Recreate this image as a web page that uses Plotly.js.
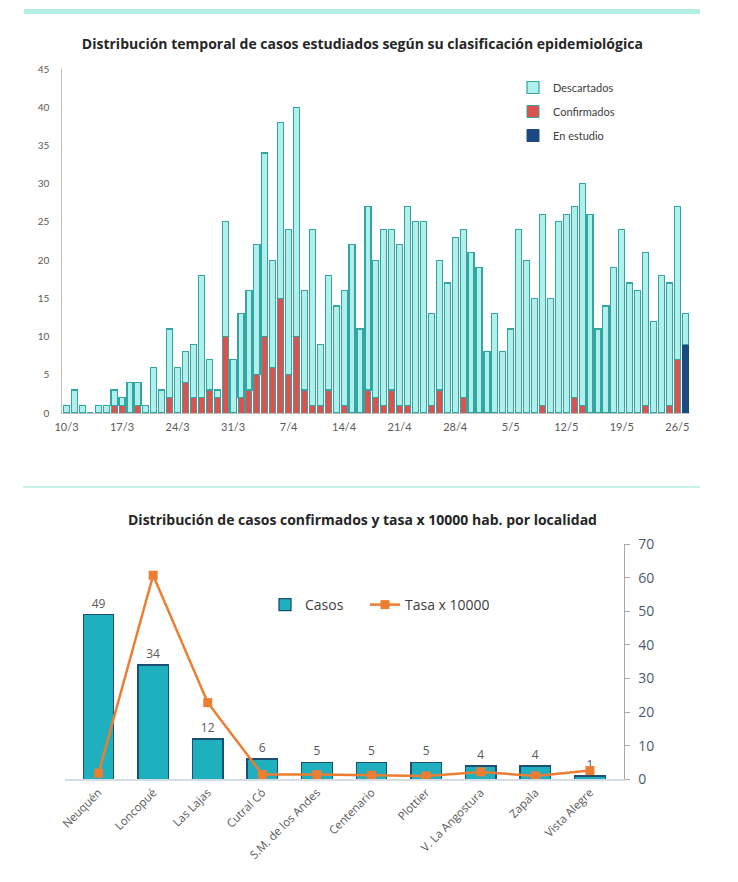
<!DOCTYPE html>
<html>
<head>
<meta charset="utf-8">
<script src="https://cdn.plot.ly/plotly-3.0.1.min.js"></script>
<style>
  html, body { margin: 0; padding: 0; background: #ffffff; }
  #chart { width: 738px; height: 882px; }
</style>
</head>
<body>
<div id="chart"></div>
<script>
// ---- Gráfico 1: distribución temporal ----
const dias = [
  '10/3','11/3','12/3','13/3','14/3','15/3','16/3','17/3','18/3','19/3','20/3','21/3','22/3','23/3','24/3','25/3','26/3','27/3','28/3','29/3','30/3','31/3',
  '1/4','2/4','3/4','4/4','5/4','6/4','7/4','8/4','9/4','10/4','11/4','12/4','13/4','14/4','15/4','16/4','17/4','18/4','19/4','20/4','21/4','22/4','23/4','24/4','25/4','26/4','27/4','28/4','29/4','30/4',
  '1/5','2/5','3/5','4/5','5/5','6/5','7/5','8/5','9/5','10/5','11/5','12/5','13/5','14/5','15/5','16/5','17/5','18/5','19/5','20/5','21/5','22/5','23/5','24/5','25/5','26/5','27/5'
];
const descartados = [
  1,3,1,0,1,1,2,1,4,3,1,6,3,9,6,4,7,16,4,1,15,7,
  11,13,17,24,14,23,19,30,13,23,8,15,14,15,22,11,24,18,23,21,21,26,25,25,12,17,17,23,22,21,
  19,8,13,8,11,24,20,15,25,15,25,26,25,29,26,11,14,19,24,17,16,20,12,18,16,20,4
];
const confirmados = [
  0,0,0,0,0,0,1,1,0,1,0,0,0,2,0,4,2,2,3,2,10,0,
  2,3,5,10,6,15,5,10,3,1,1,3,0,1,0,0,3,2,1,3,1,1,0,0,1,3,0,0,2,0,
  0,0,0,0,0,0,0,0,1,0,0,0,2,1,0,0,0,0,0,0,0,1,0,0,1,7,0
];
const enEstudio = [
  0,0,0,0,0,0,0,0,0,0,0,0,0,0,0,0,0,0,0,0,0,0,
  0,0,0,0,0,0,0,0,0,0,0,0,0,0,0,0,0,0,0,0,0,0,0,0,0,0,0,0,0,0,
  0,0,0,0,0,0,0,0,0,0,0,0,0,0,0,0,0,0,0,0,0,0,0,0,0,0,9
];
const ticksFecha = ['10/3','17/3','24/3','31/3','7/4','14/4','21/4','28/4','5/5','12/5','19/5','26/5'];

// ---- Gráfico 2: casos confirmados y tasa por localidad ----
const localidades = ['Neuquén','Loncopué','Las Lajas','Cutral Có','S.M. de los Andes','Centenario','Plottier','V. La Angostura','Zapala','Vista Alegre'];
const casos = [49, 34, 12, 6, 5, 5, 5, 4, 4, 1];
const tasa = [1.8, 60.7, 22.8, 1.4, 1.4, 1.2, 1.0, 2.2, 1.0, 2.6];

const W = 738, H = 882;
const px = v => v / W;
const py = v => 1 - v / H;

const outline = '#33A5A3';
const traces = [
  {
    type: 'bar', x: dias, y: enEstudio, name: 'En estudio',
    xaxis: 'x', yaxis: 'y', width: 0.76,
    marker: { color: '#1B4A80', line: { color: '#1B4A80', width: 1 } },
    legendgroup: 'g3', legendrank: 3, legend: 'legend', hoverinfo: 'x+y+name'
  },
  {
    type: 'bar', x: dias, y: confirmados, name: 'Confirmados',
    xaxis: 'x', yaxis: 'y', width: 0.76,
    marker: { color: '#DE514D', line: { color: outline, width: 1 } },
    legendgroup: 'g2', legendrank: 2, legend: 'legend', hoverinfo: 'x+y+name'
  },
  {
    type: 'bar', x: dias, y: descartados, name: 'Descartados',
    xaxis: 'x', yaxis: 'y', width: 0.76,
    marker: { color: '#B0F0EC', line: { color: outline, width: 1.2 } },
    legendgroup: 'g1', legendrank: 1, legend: 'legend', hoverinfo: 'x+y+name'
  },
  {
    type: 'bar', x: localidades, y: casos, name: 'Casos',
    xaxis: 'x2', yaxis: 'y2', width: 0.56,
    marker: { color: '#1EB0BE', line: { color: '#1F4E72', width: 1.3 } },
    text: casos.map(String), textposition: 'outside', cliponaxis: false,
    textfont: { family: 'Open Sans, sans-serif', size: 12, color: '#595959' },
    legend: 'legend2'
  },
  {
    type: 'scatter', mode: 'lines+markers', x: localidades, y: tasa, name: 'Tasa x 10000',
    xaxis: 'x2', yaxis: 'y3',
    line: { color: '#ED7D31', width: 2.5 },
    marker: { symbol: 'square', size: 9, color: '#ED7D31' },
    cliponaxis: false,
    legend: 'legend3'
  }
];

const legendFont2 = { family: 'Open Sans, sans-serif', size: 14, color: '#404040' };

const layout = {
  width: W, height: H,
  margin: { l: 0, r: 0, t: 0, b: 0 },
  paper_bgcolor: '#ffffff', plot_bgcolor: 'rgba(0,0,0,0)',
  barmode: 'stack',
  showlegend: true,
  font: { family: 'Lato, sans-serif', color: '#595959' },
  title: {
    text: '<b>Distribución temporal de casos estudiados según su clasificación epidemiológica</b>',
    x: 0.491, xanchor: 'center', y: py(44), yanchor: 'middle',
    font: { family: 'Open Sans, sans-serif', size: 14, color: '#262626' }
  },
  xaxis: {
    domain: [px(62.3), px(690)],
    anchor: 'y',
    type: 'category',
    range: [-0.53, 78.6],
    tickmode: 'array', tickvals: ticksFecha, ticktext: ticksFecha,
    showline: true, linecolor: '#BFBFBF', linewidth: 1,
    ticks: '', showgrid: false, zeroline: false,
    tickfont: { family: 'Lato, sans-serif', size: 11, color: '#595959' },
    ticklabelstandoff: 4
  },
  yaxis: {
    domain: [py(413), py(69)],
    anchor: 'x',
    range: [0, 45], dtick: 5,
    showline: true, linecolor: '#BFBFBF', linewidth: 1,
    ticks: '', showgrid: false, zeroline: false,
    tickfont: { family: 'Lato, sans-serif', size: 10, color: '#595959' },
    ticklabelstandoff: 10
  },
  xaxis2: {
    domain: [px(65), px(623.5)],
    anchor: 'y2',
    type: 'category',
    showline: true, linecolor: '#D6DCE4', linewidth: 2,
    ticks: '', showgrid: false, zeroline: false,
    tickangle: -45,
    tickfont: { family: 'Open Sans, sans-serif', size: 11.5, color: '#595959' }
  },
  yaxis2: {
    domain: [py(779.3), py(544)],
    anchor: 'x2',
    range: [0, 70],
    visible: false, showgrid: false, zeroline: false
  },
  yaxis3: {
    overlaying: 'y2',
    anchor: 'x2',
    side: 'right',
    range: [0, 70], dtick: 10,
    showline: true, linecolor: '#A6A6A6', linewidth: 1,
    ticks: 'outside', ticklen: 5, tickcolor: '#A6A6A6',
    showgrid: false, zeroline: false,
    tickfont: { family: 'Open Sans, sans-serif', size: 14, color: '#4D5A6B' },
    ticklabelstandoff: 6
  },
  legend: {
    x: px(513), xanchor: 'left', y: py(73), yanchor: 'top',
    orientation: 'v', traceorder: 'grouped', tracegroupgap: 5,
    bgcolor: 'rgba(0,0,0,0)',
    font: { family: 'Lato, sans-serif', size: 11, color: '#404040' },
    itemwidth: 30
  },
  legend2: {
    x: px(265), xanchor: 'left', y: py(605), yanchor: 'middle',
    orientation: 'h', bgcolor: 'rgba(0,0,0,0)', font: legendFont2
  },
  legend3: {
    x: px(365), xanchor: 'left', y: py(605), yanchor: 'middle',
    orientation: 'h', bgcolor: 'rgba(0,0,0,0)', font: legendFont2
  },
  annotations: [
    {
      text: '<b>Distribución de casos confirmados y tasa x 10000 hab. por localidad</b>',
      xref: 'paper', yref: 'paper', x: 0.491, y: py(519), xanchor: 'center', yanchor: 'middle',
      showarrow: false,
      font: { family: 'Open Sans, sans-serif', size: 14, color: '#262626' }
    }
  ],
  shapes: [
    { type: 'line', xref: 'paper', yref: 'paper', x0: px(24), x1: px(700), y0: py(11.5), y1: py(11.5),
      line: { color: '#B2EEE2', width: 5 } },
    { type: 'line', xref: 'paper', yref: 'paper', x0: px(23), x1: px(700), y0: py(487), y1: py(487),
      line: { color: '#B2EEE2', width: 1.5 } }
  ]
};

Plotly.newPlot('chart', traces, layout, { displayModeBar: false, staticPlot: true });
</script>
</body>
</html>
